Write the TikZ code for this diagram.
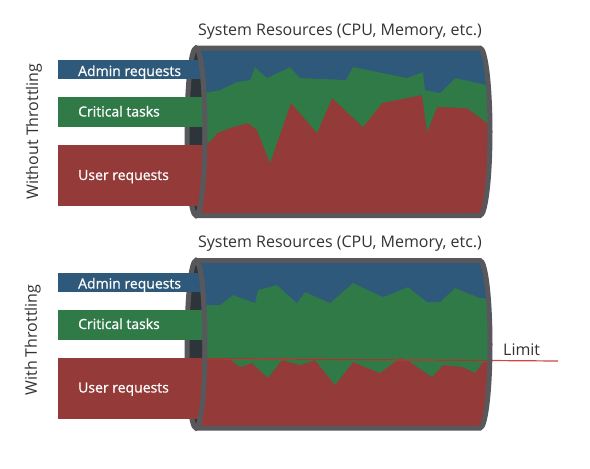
\documentclass[tikz,border=0pt]{standalone}
\usepackage{fontspec}
\setmainfont{Open Sans}
\newfontfamily\barfont[FakeBold=0.8]{Open Sans}
\definecolor{adminblue}{HTML}{2E597A}
\definecolor{critgreen}{HTML}{307A48}
\definecolor{userred}{HTML}{943A38}
\definecolor{pipegray}{HTML}{58585C}
\definecolor{pipedark}{HTML}{2D343A}
\definecolor{limitred}{HTML}{CF4646}
\definecolor{limitin}{HTML}{93402E}
\definecolor{labelgray}{HTML}{333333}
\newcommand{\pipeclippath}{(196,48) -- (480,48) .. controls (485.5,48) and (490,85.5) .. (490,131.75) .. controls (490,178) and (485.5,215.5) .. (480,215.5) -- (196,215.5) .. controls (201,215.5) and (205,178) .. (205,131.75) .. controls (205,85.5) and (201,48) .. (196,48) -- cycle}
\newcommand{\pipeoutline}{%
  \draw[pipeline] (196,48) -- (480,48) .. controls (485.5,48) and (490,85.5) .. (490,131.75) .. controls (490,178) and (485.5,215.5) .. (480,215.5) -- (196,215.5);
  \draw[pipeline] (196,48) .. controls (201,48) and (205,85.5) .. (205,131.75) .. controls (205,178) and (201,215.5) .. (196,215.5);
}
\newcommand{\pipeopening}{%
  \filldraw[fill=pipedark, pipeline] (196,131.75) ellipse [x radius=9pt, y radius=83.75pt];
}
\newcommand{\pipebars}{%
  \fill[adminblue] (57.5,60) rectangle (203,79);
  \fill[critgreen] (57.5,97) rectangle (203,127);
  \fill[userred] (57.5,145) rectangle (203,206);
}
\begin{document}
\begin{tikzpicture}[x=1pt, y=-1pt,
  pipeline/.style={draw=pipegray, line width=5pt},
  barlabel/.style={text=white, font=\barfont\fontsize{14}{16}\selectfont, inner sep=0pt, anchor=base west},
  titlelabel/.style={text=labelgray, font=\fontsize{16}{18}\selectfont, inner sep=0pt, anchor=base},
  sidelabel/.style={text=labelgray, font=\fontsize{16}{18}\selectfont, inner sep=0pt, anchor=base, rotate=90}]
\useasboundingbox (0,0) rectangle (590,469);
\fill[white] (0,0) rectangle (590,469);

% ---------- top panel: without throttling ----------
\node[titlelabel] (title1) at (340,35) {System Resources (CPU, Memory, etc.)};
\node[sidelabel] (side1) at (38,131.5) {Without Throttling};
\pipeopening
\pipebars
\begin{scope}
  \clip \pipeclippath;
  \fill[userred] (190,40) rectangle (500,225);
  \fill[critgreen] (190,40) -- (190,142) -- (210,142) -- (217,133) -- (233,127) -- (248,123) -- (257,130) -- (270,163) -- (291,103) -- (317,133) -- (332,98) -- (363,127) -- (382,103) -- (422,95) -- (427,132) -- (437,107) -- (467,108) -- (487,123) -- (500,125) -- (500,40) -- cycle;
  \fill[adminblue] (190,40) -- (190,92) -- (210,92) -- (220,90) -- (237,82) -- (250,80) -- (255,67) -- (267,78) -- (290,67) -- (300,78) -- (346,80) -- (353,67) -- (407,78) -- (423,72) -- (425,90) -- (440,93) -- (455,78) -- (487,85) -- (500,86) -- (500,40) -- cycle;
\end{scope}
\pipeoutline
\node[barlabel] (admin1) at (78,76) {Admin requests};
\node[barlabel] (crit1) at (78,116.5) {Critical tasks};
\node[barlabel] (user1) at (78,180) {User requests};

% ---------- bottom panel: with throttling ----------
\node[titlelabel] (title2) at (340,247.5) {System Resources (CPU, Memory, etc.)};
\node[sidelabel] (side2) at (37,340) {With Throttling};
\coordinate (limL) at (205,358.5);
\coordinate (limR) at (558,361);
\begin{scope}[yshift=-212.5pt]
  \pipeopening
  \pipebars
  \begin{scope}
    \clip \pipeclippath;
    \fill[userred] (190,40) rectangle (500,225);
    \fill[critgreen] (190,40) -- (190,146.5) -- (230,146.5) -- (240,154.5) -- (252,150.5) -- (268,165.5) -- (282,147.5) -- (300,152.5) -- (315,147.5) -- (335,172.5) -- (353,149.5) -- (380,160.5) -- (400,145.5) -- (407,147.5) -- (432,164.5) -- (443,152.5) -- (463,154.5) -- (475,160.5) -- (483,149.5) -- (500,147.5) -- (500,40) -- cycle;
    \fill[adminblue] (190,40) -- (190,92.5) -- (220,92.5) -- (233,82.5) -- (255,90.5) -- (258,77.5) -- (277,72.5) -- (297,90.5) -- (305,79.5) -- (330,90.5) -- (353,70.5) -- (383,84.5) -- (408,74.5) -- (427,89.5) -- (440,89.5) -- (455,75.5) -- (480,85.5) -- (500,87.5) -- (500,40) -- cycle;
  \end{scope}
\end{scope}
\draw[limitred, line width=1.2pt] (limL) -- (limR);
\begin{scope}[yshift=-212.5pt]
  \begin{scope}
    \clip \pipeclippath;
    \draw[limitin, line width=1.2pt] (limL) -- (limR);
  \end{scope}
  \pipeoutline
\end{scope}
\node[barlabel] (admin2) at (78,288.5) {Admin requests};
\node[barlabel] (crit2) at (78,329) {Critical tasks};
\node[barlabel] (user2) at (78,392.5) {User requests};
\node[text=labelgray, font=\fontsize{16}{18}\selectfont, inner sep=0pt, anchor=base west] (limit) at (503,355.5) {Limit};
\end{tikzpicture}
\end{document}
